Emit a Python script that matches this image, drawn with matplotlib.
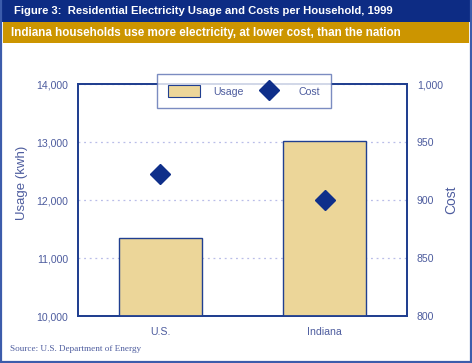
import matplotlib.pyplot as plt
from matplotlib.patches import Rectangle, Patch
from matplotlib.lines import Line2D

# Daten
regions = ["U.S.", "Indiana"]
usage_kwh = [11340, 13020]
cost = [922, 900]

usage_ticks = [10000, 11000, 12000, 13000, 14000]
cost_ticks = [800, 850, 900, 950, 1000]

title = "Figure 3:  Residential Electricity Usage and Costs per Household, 1999"
subtitle = "Indiana households use more electricity, at lower cost, than the nation"
source = "Source: U.S. Department of Energy"

# Farben
navy = "#0d2c84"
gold = "#cc9500"
bar_fill = "#ecd699"
spine_col = "#203f90"
text_col = "#4d5c9e"
grid_col = "#b9bde8"
frame_col = "#3c5cab"

plt.rcParams["font.family"] = ["Liberation Sans", "DejaVu Sans"]

fig = plt.figure(figsize=(4.72, 3.63), dpi=100)
W, H = 472, 363

# Kopfzeilen
fig.patches.append(Rectangle((0, 1 - 22 / H), 1, 22 / H, transform=fig.transFigure,
                             facecolor=navy, edgecolor="none", zorder=0))
fig.patches.append(Rectangle((3 / W, 1 - 43 / H), 1 - 6 / W, 21 / H, transform=fig.transFigure,
                             facecolor=gold, edgecolor="none", zorder=0))
fig.text(14 / W, 1 - 11 / H, title, color="white", fontsize=8.1, fontweight="bold",
         va="center", ha="left")
fig.text(11 / W, 1 - 33 / H, subtitle, color="white", fontsize=8.4, fontweight="bold",
         va="center", ha="left")

# Rahmen unten
for xs, ys in [([1 / W, 1 / W], [0, 1]), ([470.5 / W, 470.5 / W], [0, 1]),
               ([0, 1], [1.5 / H, 1.5 / H])]:
    fig.lines.append(Line2D(xs, ys, transform=fig.transFigure, color=frame_col, lw=1.6))

fig.text(10 / W, 1 - 349 / H, source, family="Liberation Serif", fontsize=6.6,
         color=text_col, va="center", ha="left")

ax = fig.add_axes([78 / W, 1 - 316 / H, 329 / W, 232 / H])
ax2 = ax.twinx()

x = range(len(regions))
ax.bar(x, usage_kwh, width=0.505, color=bar_fill, edgecolor=spine_col, linewidth=1.0, zorder=3)
ax.set_xlim(-0.5, 1.5)
ax.set_ylim(usage_ticks[0], usage_ticks[-1])
ax.set_yticks(usage_ticks)
ax.set_yticklabels([f"{v:,}" for v in usage_ticks])
ax.set_xticks(list(x))
ax.set_xticklabels(regions)
ax.yaxis.grid(True, linestyle=(0, (1.5, 3)), color=grid_col, linewidth=0.9, zorder=0)
ax.set_axisbelow(True)

ax2.plot(list(x), cost, linestyle="none", marker="D", markersize=10.6,
         color="#0f2f8a", zorder=4)
ax2.set_ylim(cost_ticks[0], cost_ticks[-1])
ax2.set_yticks(cost_ticks)
ax2.set_yticklabels([f"{v:,}" for v in cost_ticks])

for a in (ax, ax2):
    for s in a.spines.values():
        s.set_color(spine_col)
        s.set_linewidth(1.3)
    a.tick_params(length=0, labelsize=7.6, colors=text_col, pad=7)
ax.tick_params(axis="x", pad=8)

ax.set_ylabel("Usage (kwh)", fontsize=9.5, color=text_col)
ax.yaxis.set_label_coords(-0.152, 0.573)
ax2.set_ylabel("Cost", fontsize=10, color=text_col)
ax2.yaxis.set_label_coords(1.1125, 0.5)

handles = [Patch(facecolor=bar_fill, edgecolor=spine_col, linewidth=0.8),
           Line2D([], [], linestyle="none", marker="D", markersize=10.6, color="#0f2f8a")]
leg = ax2.legend(handles, ["Usage", "Cost"], loc="center",
                 bbox_to_anchor=((244 - 78) / 329, (316 - 91) / 232),
                 ncol=2, fontsize=7.6, frameon=True, fancybox=False,
                 handlelength=3.0, handleheight=1.4, handletextpad=1.3,
                 columnspacing=0.9, borderpad=1.0, labelcolor=text_col)
leg.get_frame().set_edgecolor("#5a70b2")
leg.get_frame().set_linewidth(1.0)
leg.set_zorder(10)

fig.savefig("out.png", dpi=100)
